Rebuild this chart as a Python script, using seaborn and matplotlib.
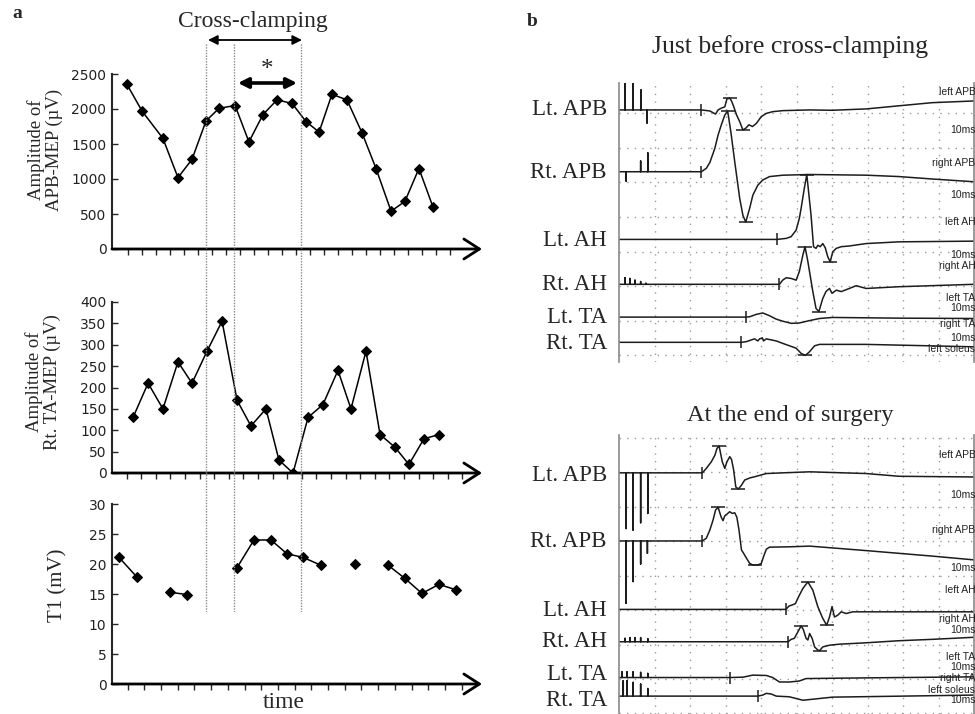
import numpy as np
import pandas as pd
import seaborn as sns
import matplotlib.pyplot as plt
from matplotlib.transforms import blended_transform_factory

# ---------------- panel a data (time in tick units of the T1 axis) ----------------
apb_t = [0.90, 1.80, 3.05, 3.95, 4.79, 5.63, 6.41, 7.37, 8.20, 9.04, 9.88,
         10.78, 11.62, 12.40, 13.17, 14.07, 14.97, 15.81, 16.71, 17.54, 18.38, 19.22]
apb_amp = [2350, 1970, 1580, 1020, 1280, 1830, 2010, 2050, 1530, 1920, 2130,
           2080, 1820, 1670, 2210, 2130, 1660, 1150, 540, 680, 1150, 600]

ta_t = [1.26, 2.16, 3.05, 3.95, 4.79, 5.69, 6.59, 7.49, 8.32, 9.22, 10.00,
        10.84, 11.74, 12.63, 13.53, 14.31, 15.21, 16.05, 16.95, 17.78, 18.68, 19.58]
ta_amp = [130, 210, 150, 260, 210, 285, 355, 170, 110, 150, 30,
          0, 130, 160, 240, 150, 285, 90, 60, 20, 80, 90]

t1_t = [0.42, 1.50, 3.47, 4.49, 7.49, 8.50, 9.52, 10.48, 11.44, 12.51,
        14.55, 16.53, 17.54, 18.56, 19.58, 20.60]
t1_val = [21.1, 17.8, 15.3, 14.9, 19.4, 24.0, 24.0, 21.7, 21.1, 19.8,
          20.0, 19.8, 17.6, 15.1, 16.6, 15.7]
t1_seg = [0, 0, 1, 1, 2, 2, 2, 2, 2, 2, 3, 4, 4, 4, 4, 4]

clamp_lines = [5.63, 7.31, 11.32]
clamp_span = [5.75, 11.38]
star_span = [7.54, 11.08]

# ---------------- panel b data (ms, amplitude in grid divisions) ----------------
names = ["Lt. APB", "Rt. APB", "Lt. AH", "Rt. AH", "Lt. TA", "Rt. TA"]
side_text = ["left APB", "10ms", "right APB", "10ms", "left AH", "10ms",
             "right AH", "left TA", "10ms", "right TA", "10ms", "left soleus"]

pre_base = [7.10, 5.31, 3.35, 2.05, 1.10, 0.37]
pre_label_y = [7.10, 5.28, 3.33, 2.03, 1.10, 0.33]
pre_onset = [23.2, 23.2, 44.5, 45.2, 35.7, 34.5]
pre_stims = [
    [(1.7, 0.81), (3.9, 0.81), (6.2, 0.58), (7.9, -0.38)],
    [(2.0, -0.27), (6.1, 0.31), (8.1, 0.55)],
    [],
    [(1.7, 0.19), (3.1, 0.17), (4.5, 0.12), (6.1, 0.08), (7.6, 0.03)],
    [],
    [],
]
pre_pts = [
    [(25.6, -0.03), (27.2, -0.12), (27.9, 0), (28.8, 0.05), (29.8, 0.09), (30.4, 0.32),
     (31.2, 0.34), (31.7, 0.26), (32.3, 0.1), (33.1, -0.14), (34.0, -0.34), (34.9, -0.58),
     (35.7, -0.53), (36.6, -0.43), (37.6, -0.48), (38.7, -0.39), (40.1, -0.19), (41.5, -0.1),
     (43.3, -0.05), (46.2, -0.02), (53.7, 0), (60.1, -0.01), (69.7, 0.03), (78.9, 0.12),
     (88.2, 0.21), (100, 0.26)],
    [(24.6, 0.1), (25.6, 0.27), (27.0, 0.68), (27.9, 1.06), (28.8, 1.35), (29.8, 1.64),
     (30.6, 1.76), (31.5, 1.16), (32.6, 0.29), (34.0, -0.77), (34.9, -1.26), (35.7, -1.46),
     (36.8, -1.06), (37.7, -0.68), (39.1, -0.39), (40.5, -0.24), (42.4, -0.14), (46.2, -0.1),
     (53.7, -0.08), (69.7, -0.1), (78.9, -0.14), (88.2, -0.21), (100, -0.29)],
    [(47.1, 0.03), (48.5, 0.08), (49.9, 0.27), (50.8, 0.61), (51.3, 0.9), (52.2, 1.48),
     (52.9, 1.88), (54.1, 0.7), (54.8, -0.21), (55.5, -0.26), (56.0, -0.17), (56.7, -0.21),
     (57.4, -0.12), (58.1, -0.24), (58.8, -0.5), (59.5, -0.65), (60.2, -0.36), (61.2, -0.26),
     (62.6, -0.21), (64.9, -0.19), (69.6, -0.12), (78.9, -0.07), (100, -0.05)],
    [(46.1, 0.12), (47.1, 0.19), (48.5, 0.17), (49.9, 0.12), (50.8, 0.37), (51.8, 0.85),
     (52.4, 1.09), (53.2, 0.66), (54.6, -0.21), (55.5, -0.7), (56.3, -0.79), (57.4, -0.41),
     (58.3, -0.21), (59.3, -0.12), (60.0, -0.26), (61.2, -0.17), (62.6, -0.21), (64.9, -0.12),
     (66.8, -0.04), (69.6, -0.12), (78.9, -0.07), (100, 0)],
    [(36.8, 0.01), (38.7, 0.08), (40.5, 0.12), (42.4, 0.04), (44.3, -0.06), (46.2, -0.12),
     (48.5, -0.18), (50.8, -0.17), (53.7, -0.1), (56.5, -0.04), (60.1, -0.01), (78.9, -0.03),
     (100, -0.04)],
    [(35.9, 0.02), (37.3, 0.07), (38.2, 0.1), (39.1, 0.04), (39.6, 0.1), (40.4, 0.13),
     (40.7, 0.04), (41.5, 0.1), (42.4, 0.08), (44.3, 0.04), (46.1, -0.03), (48.0, -0.1),
     (49.9, -0.17), (51.3, -0.32), (52.5, -0.38), (53.7, -0.27), (55.1, -0.1), (56.5, -0.06),
     (69.6, -0.06), (100, -0.13)],
]
pre_marks = [[(31.2, 0.34), (34.9, -0.58)], [(30.6, 1.76), (35.7, -1.46)],
             [(52.9, 1.88), (59.5, -0.65)], [(52.4, 1.09), (56.3, -0.79)],
             [], [(52.5, -0.38)]]
pre_side_y = [7.62, 6.52, 5.57, 4.64, 3.86, 2.90, 2.58, 1.66, 1.36, 0.90, 0.49, 0.17]

post_base = [5.99, 4.01, 2.02, 1.08, 0.04, -0.50]
post_label_y = [5.92, 3.99, 1.99, 1.08, 0.14, -0.63]
post_onset = [23.5, 23.5, 47.0, 47.6, 31.2, 39.1]
post_stims = [
    [(2.0, -1.62), (4.0, -1.67), (6.1, -1.45), (8.1, -1.18)],
    [(2.0, -1.81), (4.0, -1.18), (6.1, -0.67), (8.0, -0.36)],
    [],
    [(1.7, 0.1), (3.1, 0.12), (4.5, 0.12), (6.1, 0.12), (8.1, 0.09)],
    [(0.8, 0.17), (2.3, 0.17), (4.0, 0.17), (6.1, 0.15), (8.1, 0.12)],
    [(1.2, 0.45), (2.3, 0.45), (4.0, 0.4), (6.1, 0.35), (8.1, 0.22)],
]
post_pts = [
    [(24.6, 0.13), (26.0, 0.32), (27.0, 0.51), (27.6, 0.71), (28.2, 0.78), (29.1, 0.32),
     (29.8, 0.13), (30.4, 0.32), (31.2, 0.47), (31.7, 0.39), (32.3, 0.08), (32.9, -0.41),
     (33.6, -0.47), (34.5, -0.36), (35.4, -0.21), (36.8, -0.15), (38.7, -0.1), (41.5, -0.02),
     (46.2, 0), (53.7, 0.03), (69.6, -0.02), (78.9, -0.1), (100, -0.12)],
    [(24.6, 0.08), (25.6, 0.32), (26.5, 0.61), (27.2, 0.9), (27.9, 0.98), (28.8, 0.69),
     (29.3, 0.59), (29.8, 0.73), (30.4, 0.78), (31.2, 0.85), (31.9, 0.8), (32.6, 0.82),
     (33.2, 0.69), (33.8, 0.32), (34.5, -0.26), (35.1, -0.36), (35.9, -0.5), (36.8, -0.65),
     (37.7, -0.7), (39.1, -0.7), (40.1, -0.65), (40.7, -0.46), (41.5, -0.24), (42.4, -0.18),
     (48.0, -0.17), (53.7, -0.15), (69.6, -0.28), (78.9, -0.36), (88.2, -0.44), (100, -0.55)],
    [(47.9, 0.1), (48.8, 0.13), (49.7, 0.17), (50.6, 0.37), (51.8, 0.61), (53.2, 0.8),
     (54.6, 0.56), (56.0, 0.08), (57.4, -0.26), (58.5, -0.46), (59.3, -0.22), (60.0, 0.08),
     (60.7, -0.22), (61.6, -0.17), (62.6, -0.07), (64.0, -0.12), (65.8, -0.07), (100, -0.07)],
    [(48.5, 0.07), (49.4, 0.1), (50.4, 0.29), (51.3, 0.46), (51.9, 0.36), (52.7, 0.1),
     (53.2, 0.05), (53.7, 0.24), (54.4, 0.1), (55.1, -0.15), (56.0, -0.24), (56.5, -0.26),
     (57.4, -0.15), (59.3, -0.1), (62.1, -0.07), (69.6, -0.03), (78.9, 0.03), (88.2, 0.07),
     (100, 0.13)],
    [(34.9, 0.01), (37.7, 0.07), (41.5, 0.06), (43.3, 0), (45.2, -0.13), (48.0, -0.13),
     (50.8, -0.1), (52.7, -0.03), (69.6, -0.01), (100, 0.02)],
    [(40.5, 0.03), (41.5, 0.08), (42.9, 0.06), (44.3, 0), (48.0, -0.02), (49.9, -0.07),
     (51.8, -0.12), (53.7, -0.1), (60.1, -0.03), (100, 0.03)],
]
post_marks = [[(28.2, 0.78), (33.6, -0.47)], [(27.9, 0.98), (38.2, -0.7)],
              [(53.2, 0.8), (58.5, -0.46)], [(51.3, 0.46), (56.5, -0.26)], [], []]
post_side_y = [6.51, 5.34, 4.33, 3.22, 2.58, 1.42, 1.73, 0.64, 0.34, 0.02, -0.62, -0.31]

# ---------------- style ----------------
sns.set_style("white")
plt.rcParams["font.family"] = ["Liberation Serif", "DejaVu Serif"]
plt.rcParams["axes.linewidth"] = 1.2

W, H = 975, 714
fig = plt.figure(figsize=(W / 100, H / 100), dpi=100)


def box(l, t, r, b):
    return [l / W, 1 - b / H, (r - l) / W, (b - t) / H]


XL, XR = 112, 482
XMAX = (XR - XL) / 16.7


def setup_a(ax, ylim, yticks, xticks):
    ax.set_xlim(0, XMAX)
    ax.set_ylim(*ylim)
    ax.set_yticks(yticks)
    ax.set_xticks(xticks)
    for s in ["top", "right", "bottom"]:
        ax.spines[s].set_visible(False)
    ax.spines["left"].set_linewidth(1.5)
    ax.tick_params(axis="x", direction="out", length=4, width=1, labelbottom=False, bottom=True)
    ax.tick_params(axis="y", direction="in", length=4, width=1, labelsize=10, pad=4,
                   labelcolor="#222", left=True)
    for lbl in ax.get_yticklabels():
        lbl.set_fontfamily("DejaVu Sans")
    ax.set_xlabel("")
    ax.set_ylabel("")
    ax.annotate("", xy=(1, 0), xytext=(0, 0), xycoords="axes fraction",
                arrowprops=dict(arrowstyle="->,head_length=0.7,head_width=0.45",
                                lw=2, color="black", mutation_scale=16,
                                shrinkA=0, shrinkB=0), annotation_clip=False)


ax1 = fig.add_axes(box(XL, 74, XR, 249))
ax2 = fig.add_axes(box(XL, 302, XR, 473))
ax3 = fig.add_axes(box(XL, 504, XR, 684))

line_kw = dict(color="black", lw=1.1, marker="D", markersize=5.5,
               markeredgecolor="black", estimator=None)
sns.lineplot(x=apb_t, y=apb_amp, ax=ax1, sort=False, **line_kw)
sns.lineplot(x=ta_t, y=ta_amp, ax=ax2, sort=False, **line_kw)
t1_df = pd.DataFrame({"t": t1_t, "v": t1_val, "seg": t1_seg})
sns.lineplot(data=t1_df, x="t", y="v", units="seg", ax=ax3, **line_kw)

setup_a(ax1, (0, 2500), range(0, 2501, 500), 0.12 + 0.838 * np.arange(1, 25))
setup_a(ax2, (0, 400), range(0, 401, 50), 0.874 * np.arange(1, 25))
setup_a(ax3, (0, 30), range(0, 31, 5), np.arange(1, 22) - 0.06)

ax1.text(-0.182, 0.566, "Amplitude of\nAPB-MEP (\u00b5V)", transform=ax1.transAxes,
         rotation=90, ha="center", va="center", fontsize=13.5, linespacing=1.05)
ax2.text(-0.185, 0.534, "Amplitude of\nRt. TA-MEP (\u00b5V)", transform=ax2.transAxes,
         rotation=90, ha="center", va="center", fontsize=13.5, linespacing=1.05)
ax3.text(-0.145, 0.55, "T1 (mV)", transform=ax3.transAxes,
         rotation=90, ha="center", va="center", fontsize=15)
ax3.text(0.464, -0.105, "time", transform=ax3.transAxes, ha="center", va="center", fontsize=17)

# overlay for clamping lines and arrows
axo = fig.add_axes(box(XL, 15, XR, 612))
axo.set_xlim(0, XMAX)
axo.set_ylim(0, 1)
axo.axis("off")
axo.patch.set_alpha(0)


def fy(px):
    return (612 - px) / 597


axo.vlines(clamp_lines, 0, fy(43), color="#8a8a8a", lw=1, linestyles=(0, (1, 1)))
axo.annotate("", xy=(clamp_span[1], fy(40)), xytext=(clamp_span[0], fy(40)),
             arrowprops=dict(arrowstyle="<|-|>", color="black", lw=1.3,
                             mutation_scale=14, shrinkA=0, shrinkB=0))
axo.text(np.mean(clamp_span) - 0.1, fy(22), "Cross-clamping", ha="center", va="center", fontsize=17)
axo.annotate("", xy=(star_span[1], fy(83)), xytext=(star_span[0], fy(83)),
             arrowprops=dict(arrowstyle="<|-|>", color="black", lw=2.6,
                             mutation_scale=15, shrinkA=0, shrinkB=0))
axo.text(np.mean(star_span) - 0.05, fy(70), "*", ha="center", va="center", fontsize=18)

fig.text(17 / W, 1 - 13 / H, "a", fontsize=14, fontweight="bold", ha="center", va="center")
fig.text(532 / W, 1 - 22 / H, "b", fontsize=14, fontweight="bold", ha="center", va="center")


# ---------------- panel b ----------------
def build(base, stims, onset, pts):
    xs, ys = [0.0], [base]
    for t, a in stims:
        xs += [t, t, t]
        ys += [base, base + a, base]
    xs.append(onset)
    ys.append(base)
    for t, a in pts:
        xs.append(t)
        ys.append(base + a)
    return xs, ys


def draw_b(ax, bases, label_y, stims, onsets, pts, marks, side_y, ylim, grid_rows):
    ax.set_xlim(0, 100)
    ax.set_ylim(*ylim)
    ax.set_xticks(range(10, 100, 10))
    ax.set_yticks(grid_rows)
    ax.grid(True, color="#9a9a9a", lw=1, linestyle=(0, (1, 4.5)))
    ax.tick_params(left=False, bottom=False, labelleft=False, labelbottom=False)
    for s in ["top", "bottom"]:
        ax.spines[s].set_visible(False)
    for s in ["left", "right"]:
        ax.spines[s].set_color("#8a8a8a")
        ax.spines[s].set_linewidth(1.2)
    for i in range(len(bases)):
        xs, ys = build(bases[i], stims[i], onsets[i], pts[i])
        sns.lineplot(x=xs, y=ys, ax=ax, sort=False, estimator=None, color="#1c1c1c", lw=1.1)
        ax.scatter([onsets[i]], [bases[i]], marker="|", s=70, color="#1c1c1c", lw=1.1, zorder=3)
        if marks[i]:
            mx = [m[0] for m in marks[i]]
            my = [bases[i] + m[1] for m in marks[i]]
            ax.scatter(mx, my, marker="_", s=90, color="#1c1c1c", lw=1.1, zorder=3)
    tr = blended_transform_factory(ax.transAxes, ax.transData)
    for name, y in zip(names, label_y):
        ax.text(-0.034, y, name, transform=tr, ha="right", va="center", fontsize=16.5)
    for txt, y in zip(side_text, side_y):
        ax.text(1.004, y, txt, transform=tr, ha="right", va="center", fontsize=7.5,
                family="Liberation Sans", color="#222", clip_on=False)
    ax.set_xlabel("")
    ax.set_ylabel("")


ax_pre = fig.add_axes(box(619, 83, 974, 362))
ax_post = fig.add_axes(box(619, 435, 974, 714))
draw_b(ax_pre, pre_base, pre_label_y, pre_stims, pre_onset, pre_pts, pre_marks, pre_side_y,
       (-0.2, 7.88), range(0, 8))
draw_b(ax_post, post_base, post_label_y, post_stims, post_onset, post_pts, post_marks,
       post_side_y, (-1.02, 7.09), range(-1, 8))

fig.text(790 / W, 1 - 47 / H, "Just before cross-clamping", ha="center", va="center", fontsize=18.5)
fig.text(790 / W, 1 - 415 / H, "At the end of surgery", ha="center", va="center", fontsize=17.5)

fig.savefig("out.png", dpi=100)
